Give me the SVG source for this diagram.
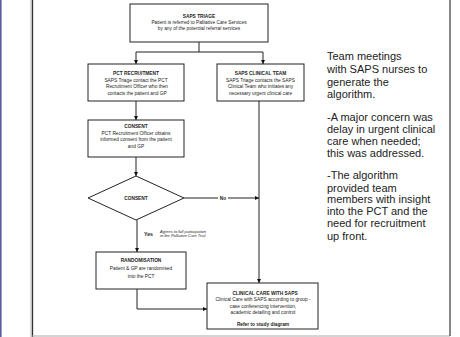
<svg xmlns="http://www.w3.org/2000/svg" width="460" height="337" viewBox="0 0 460 337">
<defs>
<marker id="ah" viewBox="0 0 6 6" refX="6" refY="3" markerWidth="4" markerHeight="4" orient="auto" markerUnits="userSpaceOnUse">
<path d="M0,0 L6,3 L0,6 Z" fill="#111"/>
</marker>
<style>
.box{fill:#fff;stroke:#222;stroke-width:1}
.ln{fill:none;stroke:#222;stroke-width:1}
.t{font-family:"Liberation Sans",Arial,sans-serif;font-size:4.8px;fill:#222;text-anchor:middle}
.b{font-weight:bold}
.it{font-family:"Liberation Sans",Arial,sans-serif;font-size:4px;font-style:italic;fill:#222}
.side{font-family:"Liberation Sans",Arial,sans-serif;font-size:11px;fill:#222}
</style>
</defs>
<rect width="460" height="337" fill="#fff"/>
<rect x="0" y="0" width="1.6" height="337" fill="#5b5ba3"/>
<line x1="31" y1="0" x2="31" y2="337" stroke="#bbb" stroke-width="1"/>
<line x1="32.5" y1="0" x2="32.5" y2="337" stroke="#333" stroke-width="1.3"/>
<line x1="32" y1="336" x2="450" y2="336" stroke="#aaa" stroke-width="1"/>
<line x1="450" y1="0" x2="450" y2="336" stroke="#111" stroke-width="1"/>

<g id="connectors">
<path class="ln" d="M199,42 V52"/>
<path class="ln" d="M136,52 H263"/>
<path class="ln" d="M136,52 V64" marker-end="url(#ah)"/>
<path class="ln" d="M263,52 V64" marker-end="url(#ah)"/>
<path class="ln" d="M136,101 V120" marker-end="url(#ah)"/>
<path class="ln" d="M136,157 V176" marker-end="url(#ah)"/>
<path class="ln" d="M259,101 V283" marker-end="url(#ah)"/>
<path class="ln" d="M184,198 H259" marker-end="url(#ah)"/>
<rect x="218" y="195" width="10" height="6" fill="#fff"/>
<text class="t b" x="223" y="199.7">No</text>
<path class="ln" d="M137,220 V252" marker-end="url(#ah)"/>
<text class="t b" x="148.5" y="235.5" style="font-size:5.2px">Yes</text>
<text class="it" x="160" y="232.5">Agrees to full participation</text>
<text class="it" x="160" y="237">in the Palliative Care Trial</text>
<path class="ln" d="M137,289 V309 H207" marker-end="url(#ah)"/>
</g>

<g id="triage">
<rect class="box" x="130" y="4" width="138" height="38"/>
<text class="t b" x="199" y="17.5">SAPS TRIAGE</text>
<text class="t" x="199" y="23.8">Patient is referred to Palliative Care Services</text>
<text class="t" x="199" y="30.3">by any of the potential referral services</text>
</g>

<g id="pct-recruitment">
<rect class="box" x="88" y="64" width="96" height="37"/>
<text class="t b" x="136" y="75">PCT RECRUITMENT</text>
<text class="t" x="136" y="81.5">SAPS Triage contact the PCT</text>
<text class="t" x="137" y="88">Recruitment Officer who then</text>
<text class="t" x="137" y="94.5">contacts the patient and GP</text>
</g>

<g id="saps-clinical-team">
<rect class="box" x="217" y="64" width="87" height="37"/>
<text class="t b" x="260.5" y="75">SAPS CLINICAL TEAM</text>
<text class="t" x="260.5" y="81.5">SAPS Triage contacts the SAPS</text>
<text class="t" x="260.5" y="88">Clinical Team who initiates any</text>
<text class="t" x="260.5" y="94.5">necessary urgent clinical care</text>
</g>

<g id="consent-box">
<rect class="box" x="88" y="120" width="96" height="37"/>
<text class="t b" x="136" y="128">CONSENT</text>
<text class="t" x="136" y="134.5">PCT Recruitment Officer obtains</text>
<text class="t" x="136" y="141">informed consent from the patient</text>
<text class="t" x="136" y="147.5">and GP</text>
</g>

<g id="consent-decision">
<path class="box" d="M136,176 L184,198 L136,220 L88,198 Z"/>
<text class="t b" x="136" y="199.7">CONSENT</text>
</g>

<g id="randomisation">
<rect class="box" x="96" y="252" width="90" height="37"/>
<text class="t b" x="141" y="262">RANDOMISATION</text>
<text class="t" x="141" y="270">Patient &amp; GP are randomised</text>
<text class="t" x="141" y="278">into the PCT</text>
</g>

<g id="clinical-care">
<rect class="box" x="207" y="283" width="111" height="46"/>
<text class="t b" x="265" y="295">CLINICAL CARE WITH SAPS</text>
<text class="t" x="263" y="301">Clinical Care with SAPS according to group -</text>
<text class="t" x="263" y="308">case conferencing intervention,</text>
<text class="t" x="263" y="314">academic detailing and control</text>
<text class="t b" x="263" y="326">Refer to study diagram</text>
</g>

<g id="notes">
<text class="side" x="327" y="60">Team meetings</text>
<text class="side" x="327" y="73">with SAPS nurses to</text>
<text class="side" x="327" y="85.5">generate the</text>
<text class="side" x="327" y="98">algorithm.</text>
<text class="side" x="327" y="121">-A major concern was</text>
<text class="side" x="327" y="133">delay in urgent clinical</text>
<text class="side" x="327" y="145">care when needed;</text>
<text class="side" x="327" y="157">this was addressed.</text>
<text class="side" x="327" y="179">-The algorithm</text>
<text class="side" x="327" y="191.5">provided team</text>
<text class="side" x="327" y="203">members with insight</text>
<text class="side" x="327" y="215">into the PCT and the</text>
<text class="side" x="327" y="227">need for recruitment</text>
<text class="side" x="327" y="239.5">up front.</text>
</g>
</svg>
